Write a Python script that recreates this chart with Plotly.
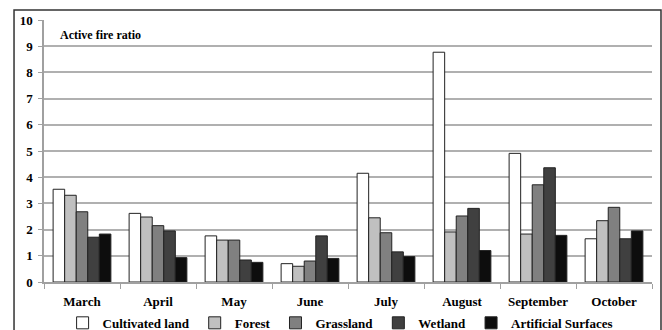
import plotly.graph_objects as go

months = ["March", "April", "May", "June", "July", "August", "September", "October"]
cultivated = [3.54, 2.62, 1.76, 0.70, 4.15, 8.77, 4.91, 1.65]
forest = [3.31, 2.48, 1.60, 0.60, 2.45, 1.91, 1.83, 2.34]
grassland = [2.68, 2.15, 1.60, 0.80, 1.88, 2.52, 3.71, 2.85]
wetland = [1.71, 1.95, 0.84, 1.76, 1.15, 2.81, 4.36, 1.65]
artificial = [1.83, 0.93, 0.75, 0.90, 0.97, 1.20, 1.78, 1.95]

series = [
    ("Cultivated land", cultivated, "#ffffff"),
    ("Forest", forest, "#c0c0c0"),
    ("Grassland", grassland, "#808080"),
    ("Wetland", wetland, "#404040"),
    ("Artificial Surfaces", artificial, "#0d0d0d"),
]

FONT = "Liberation Serif"

fig = go.Figure()
for name, vals, col in series:
    fig.add_trace(go.Bar(
        name=name, x=months, y=vals,
        marker=dict(color=col, line=dict(color="#222222", width=1)),
    ))

fig.update_layout(
    width=662, height=330,
    margin=dict(l=44, r=10, t=20, b=48, autoexpand=False),
    paper_bgcolor="white", plot_bgcolor="white",
    barmode="group", bargap=0.24, bargroupgap=0,
    font=dict(family=FONT, size=13, color="black"),
    legend=dict(
        orientation="h", x=0.487, xanchor="center", y=-0.156, yanchor="middle",
        font=dict(family=FONT, size=13, color="black", weight="bold"),
        itemwidth=30, tracegroupgap=0, bgcolor="rgba(0,0,0,0)",
    ),
    showlegend=True,
)

fig.update_yaxes(
    range=[0, 10], dtick=1, tick0=0,
    showgrid=True, gridcolor="#b0b0b0", gridwidth=1.5,
    showline=True, linecolor="#a0a0a0", linewidth=1.5,
    ticks="outside", ticklen=4, tickcolor="#a0a0a0", ticklabelstandoff=3,
    tickfont=dict(family=FONT, size=13, color="black", weight="bold"),
    zeroline=False, automargin=False,
)
fig.update_xaxes(
    showline=True, linecolor="#a0a0a0", linewidth=1.5,
    ticks="outside", tickson="boundaries", ticklen=5, tickcolor="#a0a0a0",
    ticklabelstandoff=7,
    tickfont=dict(family=FONT, size=13, color="black", weight="bold"),
    showgrid=False, automargin=False,
)

fig.add_annotation(
    text="<b>Active fire ratio</b>", xref="paper", yref="paper",
    x=0.023, y=0.943, xanchor="left", yanchor="middle", showarrow=False,
    font=dict(family=FONT, size=12, color="black"),
)

fig.add_shape(
    type="rect", xref="paper", yref="paper",
    x0=-0.0493, x1=1.0148, y0=-0.25, y1=1.038,
    line=dict(color="#333333", width=1.5), fillcolor="rgba(0,0,0,0)", layer="above",
)

fig.write_html(
    "out.html",
    config={"displayModeBar": False},
    post_script="document.body.style.margin='0px';document.body.style.overflow='hidden';",
)
